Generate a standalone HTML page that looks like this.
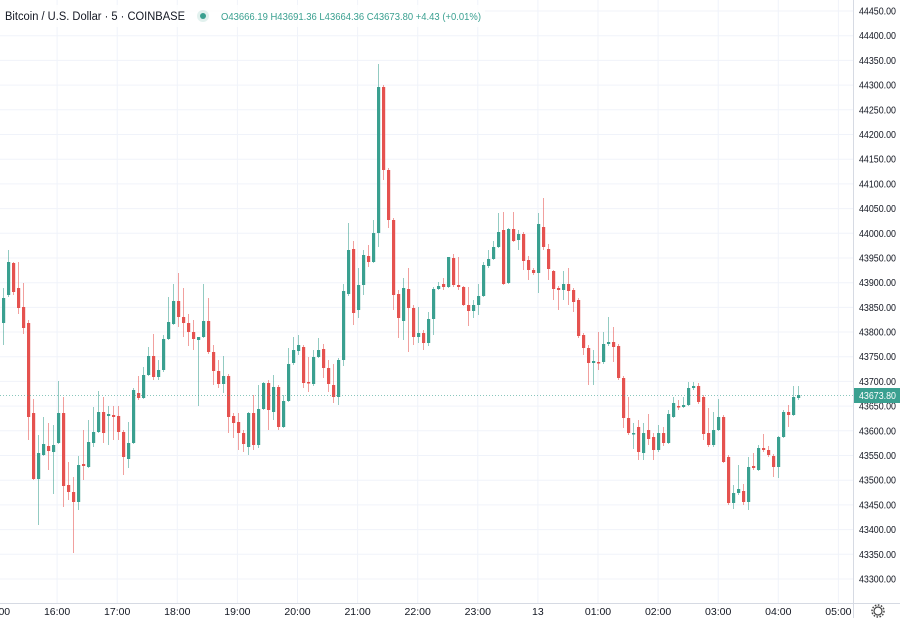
<!DOCTYPE html>
<html><head><meta charset="utf-8"><style>
body{margin:0;width:900px;height:618px;overflow:hidden;background:#fff;font-family:"Liberation Sans",sans-serif;}
svg{position:absolute;left:0;top:0}
</style></head><body>
<svg id="s" width="900" height="618" xmlns="http://www.w3.org/2000/svg"></svg>
<script>
const s=document.getElementById('s');let h='';
const G='#3aa090',R='#e5524f';
function y(p){return 11+(44450-p)/50*24.696;}
for(let p=43300;p<=44450;p+=50){const yy=y(p).toFixed(1);h+=`<line x1="0" x2="853" y1="${yy}" y2="${yy}" stroke="#f0f3fa"/>`;
h+=`<text x="859" y="${(+yy+3.5).toFixed(1)}" font-size="10" textLength="37" lengthAdjust="spacingAndGlyphs" fill="#131722">${p}.00</text>`;}
const labs=['15:00','16:00','17:00','18:00','19:00','20:00','21:00','22:00','23:00','13','01:00','02:00','03:00','04:00','05:00'];
labs.forEach((l,k)=>{const x=-3+60.1*k;h+=`<line x1="${x}" x2="${x}" y1="0" y2="603" stroke="#f0f3fa"/>`;
h+=`<text x="${x}" y="615" font-size="10.5" text-anchor="middle" fill="#131722">${l}</text>`;});
const d=[
['g',298,323,288,345],['g',262,295,250,297],['r',263,292,262,295],['r',288,308,262,314],['r',307,328,283,334],['r',323,417,320,440],['r',413,479,399,480],['g',453,479,435,525],['g',444,455,417,456],['r',446,451,423,470],
['g',445,452,425,494],['g',413,443,381,444],['r',413,486,397,507],['r',485,492,462,500],['r',492,502,477,553],['g',465,502,456,510],['r',464,466,430,480],['g',442,467,420,468],['g',432,443,407,447],['g',412,432,391,433],
['r',412,433,397,443],['g',414,416,406,445],['r',415,417,406,440],['r',416,432,406,440],['r',432,457,430,475],['g',443,459,422,468],['g',390,443,388,444],['r',393,398,376,400],['g',375,398,367,399],['g',356,375,347,376],
['r',356,377,334,380],['g',370,377,360,380],['g',339,370,335,372],['g',322,339,297,340],['g',301,324,284,325],['r',301,317,273,327],['r',317,323,288,337],['r',323,332,314,346],['r',332,339,320,350],['g',337,340,337,406],
['g',321,337,284,338],['r',321,352,298,354],['r',352,371,345,385],['r',371,384,360,388],['g',376,384,356,393],['r',376,417,374,433],['r',416,423,413,438],['r',422,433,413,450],['r',433,444,430,452],['g',413,447,412,455],
['r',413,445,395,450],['g',409,445,385,448],['g',383,409,382,410],['r',383,410,380,430],['g',387,412,375,420],['r',387,427,385,430],['g',401,427,395,428],['g',364,401,348,402],['g',350,363,337,365],['g',345,351,335,355],
['r',347,383,345,388],['r',382,383,357,392],['g',357,384,350,386],['g',350,357,338,358],['r',349,368,344,378],['r',368,384,360,392],['r',385,397,364,403],['g',360,397,358,405],['g',291,360,284,366],['g',250,294,223,296],
['r',249,313,241,325],['g',285,310,268,318],['g',255,285,250,295],['r',256,262,245,267],['g',233,262,220,263],['g',87,233,64,247],['r',87,170,85,180],['r',170,220,168,228],['r',220,295,218,310],['r',294,318,290,338],
['g',288,321,278,340],['r',289,308,268,352],['r',308,337,305,345],['g',333,337,307,343],['r',333,343,330,350],['g',319,343,312,346],['g',289,319,287,335],['g',286,289,282,290],['r',284,287,278,290],['g',257,287,257,288],
['r',258,285,254,287],['r',285,287,257,290],['r',287,305,286,306],['r',305,311,287,326],['g',305,311,300,318],['g',296,305,284,315],['g',265,296,262,297],['g',259,266,250,268],['g',247,259,241,260],['g',232,247,213,248],
['r',230,284,212,285],['g',229,283,228,284],['r',229,241,212,242],['g',234,240,230,250],['r',234,261,232,270],['r',260,270,256,280],['r',270,273,268,275],['g',224,273,213,293],['r',227,247,198,250],['r',249,269,244,280],
['r',271,289,270,300],['r',288,290,286,310],['g',284,290,271,300],['r',284,291,268,305],['r',290,302,288,312],['r',300,336,298,338],['r',335,348,333,355],['r',348,363,345,385],['g',361,363,350,385],['r',362,363,332,370],
['g',344,362,332,364],['g',342,344,317,346],['r',342,347,327,362],['r',346,378,344,380],['r',378,418,376,428],['r',418,433,397,435],['g',433,434,423,449],['r',427,452,420,460],['g',433,453,423,460],['r',430,439,414,445],
['r',437,450,433,460],['g',433,450,425,452],['r',433,443,427,446],['g',414,443,410,444],['g',403,417,397,418],['r',406,407,400,410],['g',405,407,397,408],['g',388,405,382,406],['g',386,388,382,390],['r',386,402,383,404],
['r',397,434,395,440],['r',433,445,408,447],['g',430,445,412,447],['g',417,430,399,431],['r',417,462,415,463],['r',457,503,455,505],['g',493,503,485,509],['g',489,493,465,495],['r',491,502,484,505],['g',467,502,457,510],
['r',466,468,453,470],['g',448,470,445,471],['r',448,450,434,452],['r',450,455,446,457],['r',456,467,454,477],['g',437,467,436,478],['g',412,437,410,438],['r',412,415,405,427],['g',397,415,386,416],['g',395,398,386,400]];
d.forEach((c,i)=>{const x=3+5*i;const col=c[0]=='g'?G:R;
h+=`<line x1="${x+0.5}" x2="${x+0.5}" y1="${c[3]}" y2="${c[4]}" stroke="${col}" stroke-opacity="0.55"/>`;
h+=`<rect x="${x-1}" y="${c[1]}" width="3.2" height="${Math.max(1.5,c[2]-c[1])}" fill="${col}"/>`;});
h+=`<line x1="0" x2="853" y1="395.5" y2="395.5" stroke="#3aa090" stroke-opacity="0.6" stroke-dasharray="1,2"/>`;
h+=`<line x1="853.5" x2="853.5" y1="0" y2="618" stroke="#d6dae3"/><line x1="0" x2="900" y1="603.5" y2="603.5" stroke="#d6dae3"/>`;
h+=`<rect x="854" y="388" width="46" height="15" fill="#3aa090"/><text x="859" y="399" font-size="10" textLength="37" lengthAdjust="spacingAndGlyphs" fill="#fff">43673.80</text>`;
h+=`<circle cx="878" cy="611" r="4" fill="none" stroke="#444" stroke-width="1.2"/><circle cx="878" cy="611" r="6" fill="none" stroke="#444" stroke-width="1.5" stroke-dasharray="1.6,1.5"/>`;
h+=`<rect x="0" y="5" width="485" height="22" fill="#fff" fill-opacity="0.8"/>`;
h+=`<text x="5" y="20" font-size="11.5" textLength="180" lengthAdjust="spacingAndGlyphs" fill="#131722">Bitcoin / U.S. Dollar · 5 · COINBASE</text>`;
h+=`<circle cx="203" cy="16" r="6" fill="#3aa090" fill-opacity="0.15"/><circle cx="203" cy="16" r="3" fill="#3aa090"/>`;
h+=`<text x="221" y="20" font-size="10.5" textLength="260" lengthAdjust="spacingAndGlyphs" fill="#3aa090">O43666.19 H43691.36 L43664.36 C43673.80 +4.43 (+0.01%)</text>`;
s.innerHTML=h;
</script>
</body></html>
